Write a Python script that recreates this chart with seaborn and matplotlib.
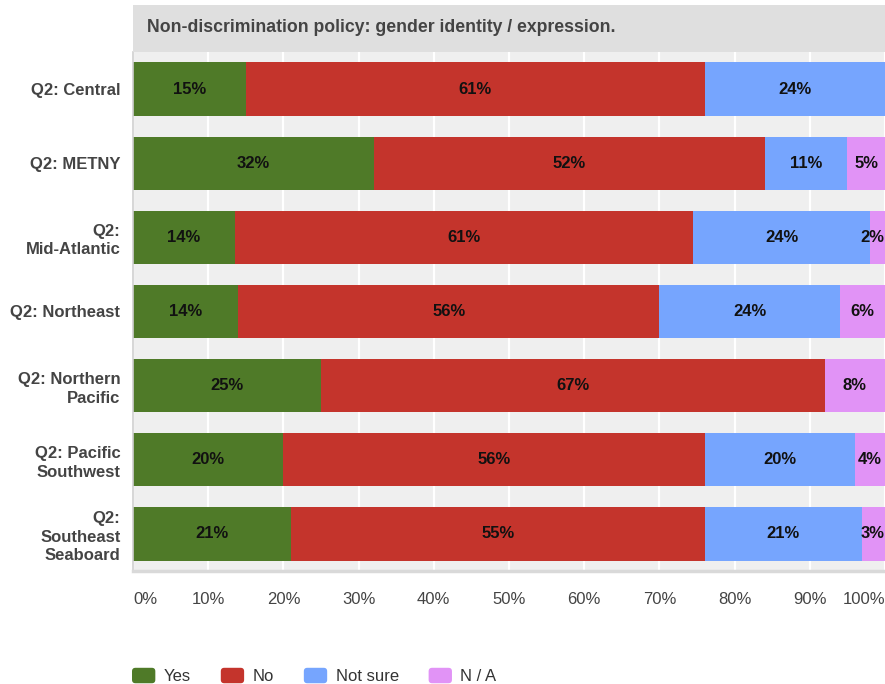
import matplotlib
matplotlib.use("Agg")
import matplotlib.pyplot as plt
from matplotlib.patches import Rectangle, FancyBboxPatch, Patch
from matplotlib.legend_handler import HandlerPatch
from matplotlib.ticker import FixedLocator
import numpy as np
import pandas as pd
import seaborn as sns

# --- data -------------------------------------------------------------
regions = [
    "Q2: Central",
    "Q2: METNY",
    "Q2:\nMid-Atlantic",
    "Q2: Northeast",
    "Q2: Northern\nPacific",
    "Q2: Pacific\nSouthwest",
    "Q2:\nSoutheast\nSeaboard",
]
yes = [15, 32, 13.5, 14, 25, 20, 21]
no = [61, 52, 61, 56, 67, 56, 55]
not_sure = [24, 11, 23.5, 24, 0, 20, 21]
n_a = [0, 5, 2, 6, 8, 4, 3]

series_names = ["Yes", "No", "Not sure", "N / A"]
series_colors = ["#4f7a28", "#c4342c", "#76a5fe", "#e193f6"]
title = "Non-discrimination policy: gender identity / expression."
x_ticks = [0, 10, 20, 30, 40, 50, 60, 70, 80, 90, 100]

# --- styling ------------------------------------------------------------
sns.set_theme(style="white")
plt.rcParams["font.family"] = ["Liberation Sans", "DejaVu Sans"]

W, H = 885, 684
fig = plt.figure(figsize=(W / 100, H / 100), dpi=100)

def fx(px):
    return px / W

def fy(py):
    return 1 - py / H

left, right, top, bottom = 133, 885, 52, 571
ax = fig.add_axes([fx(left), fy(bottom), fx(right - left), fy(top) - fy(bottom)])
ax.set_facecolor("#efefef")

# Stacked bars: draw cumulative totals from the outermost segment inward
df = pd.DataFrame({"region": regions, "Yes": yes, "No": no,
                   "Not sure": not_sure, "N / A": n_a})
seg = df[series_names].to_numpy(dtype=float)
cum = np.cumsum(seg, axis=1)

for k in range(len(series_names) - 1, -1, -1):
    layer = pd.DataFrame({"region": regions, "value": cum[:, k]})
    sns.barplot(data=layer, y="region", x="value", order=regions,
                orient="h", color=series_colors[k], saturation=1,
                width=0.72, ax=ax, linewidth=0, zorder=2)

# Segment value labels
for i in range(len(regions)):
    for k in range(len(series_names)):
        v = seg[i, k]
        if v <= 0:
            continue
        start = cum[i, k] - v
        cx = min(start + v / 2, 98.3)
        ax.text(cx, i, f"{v:.0f}%", ha="center", va="center",
                fontsize=12, fontweight="bold", color="#111111", zorder=4)

ax.set_xlim(0, 100)
ax.set_ylim(len(regions) - 0.5, -0.5)
ax.set_xlabel("")
ax.set_ylabel("")

# Grid
ax.xaxis.set_major_locator(FixedLocator(x_ticks))
ax.set_axisbelow(True)
ax.grid(axis="x", color="white", linewidth=1.6, zorder=0)
ax.grid(axis="y", visible=False)

ax.set_xticklabels([f"{t}%" for t in x_ticks], fontsize=12, color="#444444")
labels = ax.get_xticklabels()
labels[0].set_horizontalalignment("left")
labels[-1].set_horizontalalignment("right")
ax.tick_params(axis="x", length=0, pad=15)
ax.tick_params(axis="y", length=0, pad=9)
for lab in ax.get_yticklabels():
    lab.set_fontsize(12)
    lab.set_fontweight("bold")
    lab.set_color("#444444")
    lab.set_linespacing(1.3)

for s in ["top", "right"]:
    ax.spines[s].set_visible(False)
ax.spines["left"].set_color("#cfcfcf")
ax.spines["left"].set_linewidth(1.2)
ax.spines["bottom"].set_color("#d9d9d9")
ax.spines["bottom"].set_linewidth(2.5)

# Title band
fig.patches.append(Rectangle((fx(left), fy(top)), fx(right - left), fy(5) - fy(top),
                             transform=fig.transFigure, facecolor="#dfdfdf",
                             edgecolor="none", zorder=0))
fig.text(fx(147), fy(27), title, ha="left", va="center", fontsize=12.7,
         fontweight="bold", color="#444444")

# Legend with rounded swatches
def rounded_swatch(legend, orig_handle, xdescent, ydescent, width, height, fontsize):
    return FancyBboxPatch((-xdescent, -ydescent), width, height,
                          boxstyle="round,pad=0,rounding_size=2.5")

handles = [Patch(facecolor=c, edgecolor="none") for c in series_colors]
fig.legend(handles, series_names, loc="center left",
           bbox_to_anchor=(fx(132), fy(676)), frameon=False, ncol=4,
           fontsize=12, handlelength=1.4, handleheight=1.05,
           handletextpad=0.5, columnspacing=1.8, borderpad=0,
           borderaxespad=0, labelcolor="#333333",
           handler_map={Patch: HandlerPatch(patch_func=rounded_swatch)})

fig.savefig("out.png", dpi=100)
